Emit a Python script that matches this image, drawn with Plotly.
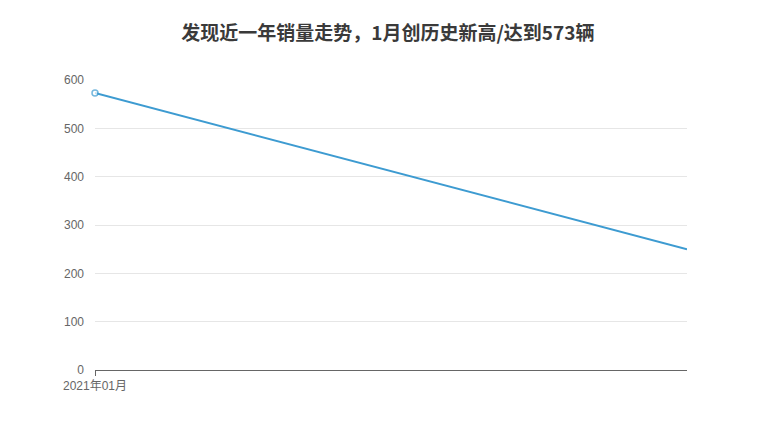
# Tracer la courbe des ventes mensuelles

import plotly.graph_objects as go

# Données
months = ["2021年01月", "2021年02月"]
sales = [573, 250]
y_ticks = [0, 100, 200, 300, 400, 500, 600]

title_text = "发现近一年销量走势，1月创历史新高/达到573辆"
font_family = "Liberation Sans, Noto Sans CJK SC, sans-serif"

fig = go.Figure()

fig.add_trace(go.Scatter(
    x=months,
    y=sales,
    mode="lines+markers",
    line=dict(color="#3d9bd1", width=2),
    marker=dict(size=[6, 0], color="white",
                line=dict(color="#3d9bd1", width=1.5)),
    cliponaxis=False,
    hoverinfo="x+y",
))

fig.update_layout(
    width=780, height=440,
    paper_bgcolor="white", plot_bgcolor="white",
    margin=dict(l=87, r=101, t=72, b=78),
    showlegend=False,
    font=dict(family=font_family, color="#666", size=11),
    title=dict(text="<b>" + title_text + "</b>", x=0.487, xanchor="center",
               y=0.943, yanchor="middle",
               font=dict(size=19, color="#3a3a3a",
                         family="Noto Sans CJK SC, Liberation Sans, sans-serif")),
)

fig.update_xaxes(
    range=[0, 1],
    tickvals=[months[0]],
    ticktext=[months[0]],
    showgrid=False,
    showline=True, linecolor="#666", linewidth=1,
    ticks="outside", ticklen=5, tickcolor="#666",
    tickfont=dict(size=12, color="#666",
                  family="Liberation Sans, Noto Sans CJK SC, sans-serif"),
    zeroline=False,
)

fig.update_yaxes(
    range=[0, 600],
    tickvals=y_ticks,
    showgrid=True, gridcolor="#e6e6e6", gridwidth=1,
    showline=False, zeroline=False,
    ticks="", ticklabelstandoff=10,
    tickfont=dict(size=12, color="#666"),
)

fig.write_html("out.html")
